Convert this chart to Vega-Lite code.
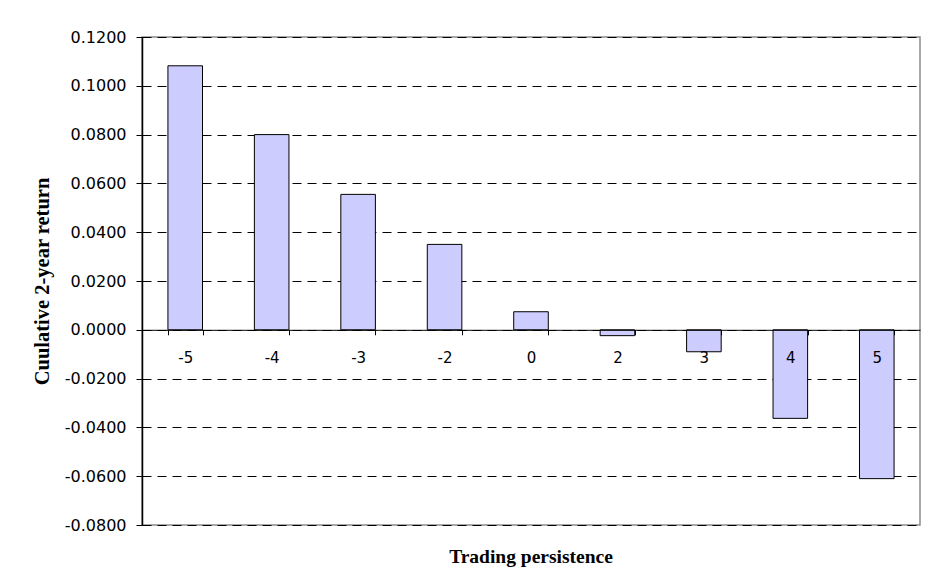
{
  "$schema": "https://vega.github.io/schema/vega-lite/v6.json",
  "autosize": {"type": "none"},
  "padding": {"left": 142, "top": 37, "right": 7, "bottom": 63},
  "width": 778,
  "height": 488,
  "background": "white",
  "config": {
    "view": {"stroke": "#8c8c8c", "strokeWidth": 1.5}
  },
  "title": {
    "text": "Trading persistence",
    "orient": "bottom",
    "anchor": "middle",
    "font": "Liberation Serif",
    "fontSize": 19.5,
    "fontWeight": "bold",
    "color": "#000",
    "offset": 15
  },
  "data": {
    "values": [
      {"persistence": "-5", "ret": 0.1082},
      {"persistence": "-4", "ret": 0.0800},
      {"persistence": "-3", "ret": 0.0555},
      {"persistence": "-2", "ret": 0.0350},
      {"persistence": "0", "ret": 0.0074},
      {"persistence": "2", "ret": -0.0024},
      {"persistence": "3", "ret": -0.0090},
      {"persistence": "4", "ret": -0.0363},
      {"persistence": "5", "ret": -0.0610}
    ]
  },
  "mark": {"type": "bar", "fill": "#CCCCFF", "stroke": "#000", "strokeWidth": 1},
  "encoding": {
    "x": {
      "field": "persistence",
      "type": "nominal",
      "sort": null,
      "scale": {"paddingInner": 0.6, "paddingOuter": 0.3},
      "axis": {
        "title": null,
        "offset": -195.2,
        "zindex": 1,
        "grid": false,
        "labelAngle": 0,
        "labelFont": "DejaVu Sans",
        "labelFontSize": 15,
        "labelColor": "#000",
        "labelPadding": 16,
        "domainColor": "#000",
        "domainWidth": 1,
        "tickColor": "#000",
        "tickSize": 5,
        "tickWidth": 1,
        "tickBand": "extent"
      }
    },
    "y": {
      "field": "ret",
      "type": "quantitative",
      "scale": {"domain": [-0.08, 0.12], "nice": false, "zero": false},
      "axis": {
        "title": "Cuulative 2-year return",
        "titleFont": "Liberation Serif",
        "titleFontSize": 20.5,
        "titleFontWeight": "bold",
        "titleColor": "#000",
        "titlePadding": 12,
        "values": [-0.08, -0.06, -0.04, -0.02, 0, 0.02, 0.04, 0.06, 0.08, 0.1, 0.12],
        "labelExpr": "replace(format(datum.value, '.4f'), '\u2212', '-')",
        "labelFont": "DejaVu Sans",
        "labelFontSize": 16,
        "labelColor": "#000",
        "labelPadding": 10,
        "domainColor": "#000",
        "domainWidth": 1.5,
        "tickColor": "#000",
        "tickSize": 6,
        "tickWidth": 1,
        "grid": true,
        "gridColor": "#000",
        "gridWidth": 1,
        "gridDash": [9, 6],
        "zindex": 0
      }
    }
  }
}
